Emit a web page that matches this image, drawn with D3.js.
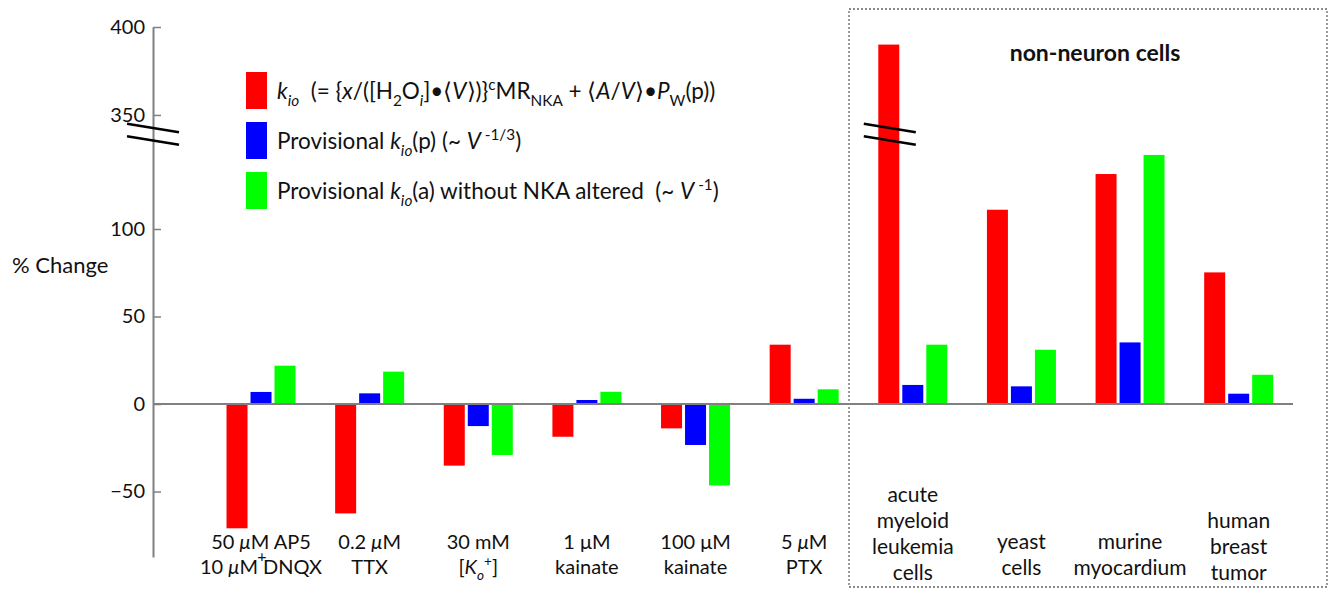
<!DOCTYPE html>
<html>
<head>
<meta charset="utf-8">
<script src="https://cdn.jsdelivr.net/npm/d3@7"></script>
<style>
  body { margin: 0; background: #fff; }
  svg text { font-family: Lato, "Open Sans", sans-serif; white-space: pre; fill: #111; }
</style>
</head>
<body>
<svg id="chart" width="1333" height="591"></svg>
<script>
// categories and their (multi line) labels; *..* italic, _{..} sub, ^{..} sup
const categories = ["ap5dnqx", "ttx", "ko", "kainate1", "kainate100", "ptx", "aml", "yeast", "murine", "breast"];
const catLabels = [
  ["50 *μ*M AP5", "10 *μ*M DNQX"],
  ["0.2 *μ*M", "TTX"],
  ["30 mM", "[*K*_{*o*}^{+}]"],
  ["1 μM", "kainate"],
  ["100 μM", "kainate"],
  ["5 *μ*M", "PTX"],
  ["acute", "myeloid", "leukemia", "cells"],
  ["yeast", "cells"],
  ["murine", "myocardium"],
  ["human", "breast", "tumor"]
];
const nonNeuron = ["aml", "yeast", "murine", "breast"];

// % change per series
const seriesNames = ["kio", "kioP", "kioA"];
const kio  = [-71, -62.5, -35.2, -18.7, -13.9, 33.9, 390, 111, 131.4, 75.2];
const kioP = [6.9, 6.1, -12.6, 2.3, -23.4, 3.0, 10.9, 10.1, 35.2, 5.9];
const kioA = [21.9, 18.5, -29.1, 7.0, -46.5, 8.4, 33.9, 31, 142.3, 16.7];
const seriesColors = ["#ff0000", "#0000ff", "#00ff00"];
const legendLabels = [
  "*k*_{*io*}  (= {*x*/([H_{2}O_{*i*}]•⟨*V*⟩)}^{c}MR_{NKA} + ⟨*A*/*V*⟩•*P*_{W}(p))",
  "Provisional *k*_{*io*}(p) (~ *V*^{ -1/3})",
  "Provisional *k*_{*io*}(a) without NKA altered  (~ *V*^{ -1})"
];

const yTicks = [-50, 0, 50, 100, 350, 400];
const yBreak = [153.7, 338.6]; // values hidden by the axis break

const values = [kio, kioP, kioA];
const table = categories.map((c, i) => ({ cat: c, vals: values.map(v => v[i]) }));

const svg = d3.select("#chart");

// broken axis: one polylinear scale that collapses the gap
const y = d3.scaleLinear()
  .domain([-87.4, yBreak[0], yBreak[1], 400])
  .range([557, 135, 135, 27]);

const x = d3.scaleBand()
  .domain(categories)
  .range([206.7, 1293])
  .padding(0);

const xInner = d3.scaleBand()
  .domain(seriesNames)
  .range([x.bandwidth() / 2 - 34.5, x.bandwidth() / 2 + 34.5])
  .paddingInner(0.125);

const axisX = 153;

function rich(sel, str, size) {
  const parts = str.split(/(\*[^*]+\*|_\{[^}]+\}|\^\{[^}]+\})/).filter(s => s.length);
  let shift = 0;
  parts.forEach(p => {
    let t = p, italic = false, target = 0, small = false;
    if (p.startsWith("_{")) { t = p.slice(2, -1); target = size * 0.3; small = true; }
    else if (p.startsWith("^{")) { t = p.slice(2, -1); target = -size * 0.4; small = true; }
    if (t.length > 2 && t[0] === "*" && t[t.length - 1] === "*") { t = t.slice(1, -1); italic = true; }
    sel.append("tspan")
      .attr("dy", target - shift)
      .style("font-style", italic ? "italic" : null)
      .style("font-size", small ? (size * 0.68) + "px" : null)
      .text(t);
    shift = target;
  });
}

// dashed box round the non-neuron cells
svg.append("rect")
  .attr("x", 849).attr("y", 9)
  .attr("width", 478).attr("height", 578)
  .attr("fill", "none")
  .attr("stroke", "#666")
  .attr("stroke-width", 1.3)
  .attr("stroke-dasharray", "2,2");

svg.append("text")
  .attr("x", 1095).attr("y", 61)
  .attr("text-anchor", "middle")
  .style("font-size", "23px")
  .style("font-weight", "bold")
  .text("non-neuron cells");

// bars
const groups = svg.selectAll("g.grp")
  .data(table)
  .join("g")
  .attr("class", "grp")
  .attr("transform", d => `translate(${x(d.cat)},0)`);

groups.selectAll("rect")
  .data(d => d.vals.map((v, i) => ({ key: seriesNames[i], v: v, i: i })))
  .join("rect")
  .attr("x", d => xInner(d.key))
  .attr("width", xInner.bandwidth())
  .attr("y", d => y(Math.max(0, d.v)))
  .attr("height", d => Math.abs(y(d.v) - y(0)))
  .attr("fill", d => seriesColors[d.i]);

// zero line
svg.append("line")
  .attr("x1", axisX).attr("x2", x.range()[1])
  .attr("y1", y(0)).attr("y2", y(0))
  .attr("stroke", "#808080")
  .attr("stroke-width", 2);

// y axis
const yAxis = svg.append("g")
  .attr("transform", `translate(${axisX},0)`)
  .call(d3.axisLeft(y).tickValues(yTicks).tickSize(-8).tickSizeOuter(0).tickPadding(8));
yAxis.select(".domain").attr("stroke", "#808080").attr("stroke-width", 2);
yAxis.selectAll(".tick line").attr("stroke", "#808080").attr("stroke-width", 1.5);
yAxis.selectAll(".tick text")
  .style("font-size", "20px")
  .style("font-family", "Lato, sans-serif")
  .attr("fill", "#111");

// break marks on the axis and on the tall bar
const yb = y(yBreak[0]) - 1;
function breakMarks(cx) {
  [-6, 6.5].forEach(off => {
    svg.append("line")
      .attr("x1", cx - 26).attr("x2", cx + 26)
      .attr("y1", yb + off - 4.2).attr("y2", yb + off + 4.2)
      .attr("stroke", "#000")
      .attr("stroke-width", 2.6);
  });
}
breakMarks(axisX);
breakMarks(x("aml") + x.bandwidth() / 2 - 23);

svg.append("text")
  .attr("x", 12).attr("y", 273)
  .style("font-size", "22px")
  .text("% Change");

// category labels
catLabels.forEach((lines, i) => {
  const cx = x(categories[i]) + x.bandwidth() / 2;
  const right = nonNeuron.includes(categories[i]);
  const lh = right ? 26 : 25;
  const fs = right ? 21 : 20;
  const n = lines.length;
  let ys = lines.map((l, j) => 561.5 + (j - (n - 1) / 2) * lh);
  const shift = Math.min(0, 580 - ys[n - 1]);
  ys = ys.map(v => v + shift);
  lines.forEach((l, j) => {
    const t = svg.append("text")
      .attr("x", cx).attr("y", ys[j])
      .attr("text-anchor", "middle")
      .style("font-size", fs + "px");
    rich(t, l, fs);
  });
  if (categories[i] === "ap5dnqx") {
    svg.append("text")
      .attr("x", cx + 1).attr("y", ys[0] + 13)
      .attr("text-anchor", "middle")
      .style("font-size", "16px")
      .text("+");
  }
});

// legend
const legend = svg.append("g");
legendLabels.forEach((l, i) => {
  legend.append("rect")
    .attr("x", 246).attr("y", 72 + i * 50)
    .attr("width", 21).attr("height", 37)
    .attr("fill", seriesColors[i]);
  const t = legend.append("text")
    .attr("x", 277).attr("y", 99 + i * 50)
    .style("font-size", "22.5px");
  rich(t, l, 22.5);
});
</script>
</body>
</html>
